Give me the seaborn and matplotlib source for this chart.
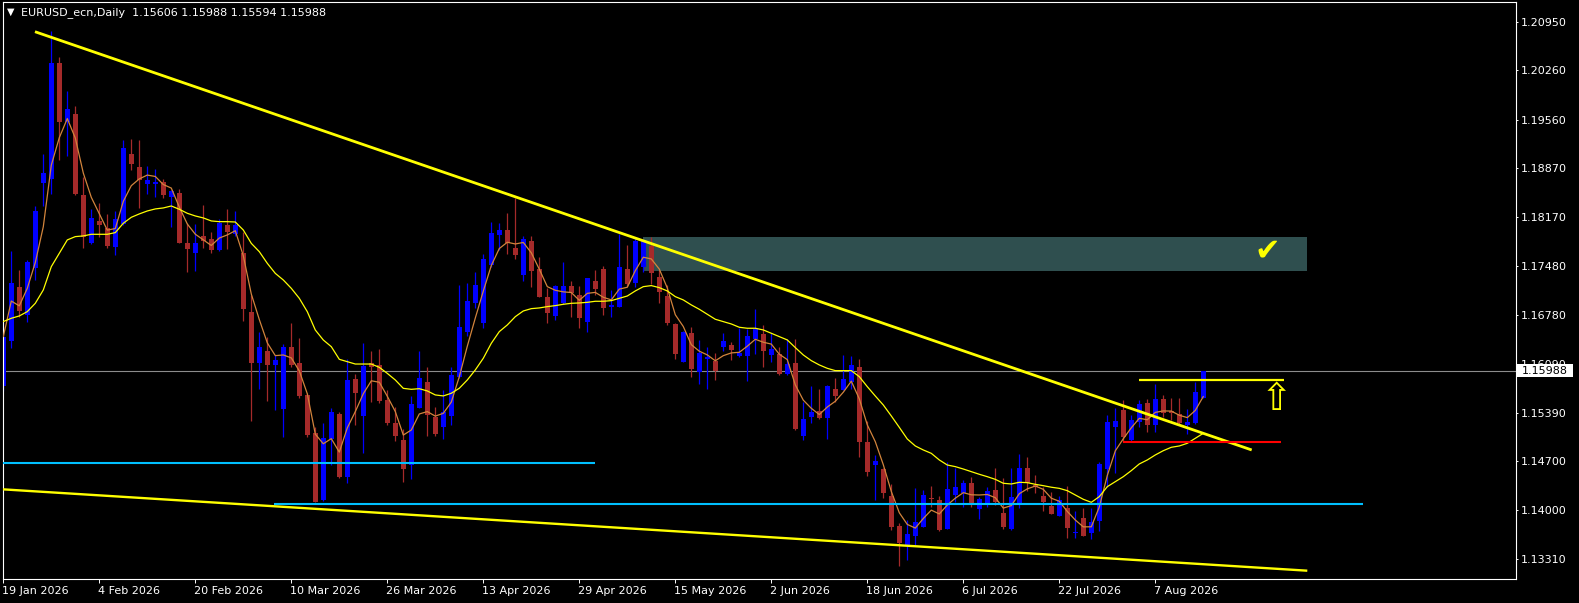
import numpy as np
import pandas as pd
import matplotlib
matplotlib.use('Agg')
import matplotlib.pyplot as plt
import matplotlib.transforms as mtransforms
from matplotlib.patches import Rectangle
import seaborn as sns

# daily candles, 19 Jan 2026 .. 14 Aug 2026 (trading days)
open_ = [
    1.15776, 1.16416, 1.17185, 1.16786, 1.17445, 1.18655, 1.18712, 1.20372, 1.19532, 1.19641,
    1.18489, 1.17811, 1.18119, 1.18019, 1.17754, 1.18076, 1.19072, 1.18892, 1.18641, 1.18641,
    1.18669, 1.18465, 1.18522, 1.17811, 1.17659, 1.17906, 1.17868, 1.17705, 1.18061, 1.17933,
    1.17667, 1.16823, 1.16102, 1.16273, 1.16069, 1.15438, 1.16330, 1.16102, 1.15642, 1.15106,
    1.14148, 1.15016, 1.15372, 1.14480, 1.15865, 1.15348, 1.16093, 1.16069, 1.15571, 1.15239,
    1.15002, 1.14646, 1.15452, 1.15832, 1.15325, 1.15183, 1.15344, 1.15904, 1.16544, 1.16957,
    1.16672, 1.17493, 1.17919, 1.17991, 1.17739, 1.17350, 1.17834, 1.17436, 1.17042, 1.16772,
    1.16947, 1.17194, 1.17066, 1.16686, 1.17265, 1.17431, 1.16895, 1.16900, 1.17431, 1.17232,
    1.17469, 1.17768, 1.17317, 1.17052, 1.16653, 1.16117, 1.16520, 1.15975, 1.16150, 1.16127,
    1.16321, 1.16354, 1.16198, 1.16203, 1.16440, 1.16511, 1.16212, 1.16226, 1.15942, 1.16094,
    1.15060, 1.15335, 1.15415, 1.15320, 1.15728, 1.15714, 1.15832, 1.16036, 1.14978, 1.14646,
    1.14589, 1.14210, 1.13778, 1.13508, 1.13641, 1.13769, 1.14177, 1.14144, 1.13736, 1.14220,
    1.14243, 1.14386, 1.14020, 1.14101, 1.14291, 1.13968, 1.13736, 1.14101, 1.14608, 1.14362,
    1.14210, 1.14068, 1.13925, 1.14039, 1.13674, 1.13897, 1.13674, 1.13850, 1.14589, 1.15192,
    1.15429, 1.15002, 1.15263, 1.15533, 1.15216, 1.15581, 1.15420, 1.15367, 1.15216, 1.15239,
    1.15606]
high = [
    1.16530, 1.17692, 1.17422, 1.17564, 1.18337, 1.19072, 1.20822, 1.20457, 1.19969, 1.19755,
    1.18740, 1.18290, 1.18380, 1.18219, 1.18261, 1.19272, 1.19286, 1.19272, 1.18906, 1.18859,
    1.18717, 1.18560, 1.18574, 1.18086, 1.18076, 1.18347, 1.17963, 1.18142, 1.18289, 1.18260,
    1.17966, 1.17065, 1.16543, 1.16472, 1.16211, 1.16368, 1.16671, 1.16448, 1.15670, 1.15191,
    1.15239, 1.15452, 1.15400, 1.16150, 1.15936, 1.16387, 1.16268, 1.16297, 1.15713, 1.15467,
    1.15154, 1.15628, 1.16268, 1.16045, 1.15477, 1.15714, 1.16036, 1.17208, 1.17241, 1.17388,
    1.17649, 1.18109, 1.18085, 1.18237, 1.18441, 1.17905, 1.17905, 1.17611, 1.17161, 1.17208,
    1.17540, 1.17270, 1.17194, 1.17313, 1.17421, 1.17478, 1.17137, 1.17934, 1.17777, 1.17872,
    1.17858, 1.17886, 1.17422, 1.17208, 1.16660, 1.16550, 1.16606, 1.16426, 1.16331, 1.16236,
    1.16530, 1.16402, 1.16601, 1.16582, 1.16862, 1.16639, 1.16530, 1.16321, 1.16440, 1.16440,
    1.15548, 1.15776, 1.15724, 1.15780, 1.15880, 1.16212, 1.16202, 1.16155, 1.15272, 1.14789,
    1.14600, 1.14376, 1.13826, 1.13864, 1.14314, 1.14291, 1.14352, 1.14210, 1.14694, 1.14608,
    1.14433, 1.14480, 1.14196, 1.14338, 1.14599, 1.14457, 1.14599, 1.14803, 1.14755, 1.14504,
    1.14338, 1.14267, 1.14210, 1.14352, 1.13992, 1.14039, 1.14030, 1.14694, 1.15358, 1.15453,
    1.15571, 1.15358, 1.15571, 1.15581, 1.15799, 1.15642, 1.15604, 1.15604, 1.15438, 1.15832,
    1.15988]
low = [
    1.15700, 1.16307, 1.16758, 1.16687, 1.17279, 1.18337, 1.18498, 1.18987, 1.19049, 1.18489,
    1.17740, 1.17792, 1.17896, 1.17730, 1.17635, 1.18067, 1.18845, 1.18309, 1.18503, 1.18465,
    1.18451, 1.18038, 1.17801, 1.17398, 1.17412, 1.17730, 1.17659, 1.17695, 1.17720, 1.17905,
    1.16695, 1.15277, 1.15723, 1.15562, 1.15429, 1.15049, 1.16045, 1.15595, 1.15050, 1.14115,
    1.14139, 1.14646, 1.14466, 1.14395, 1.15215, 1.14822, 1.15547, 1.15533, 1.15215, 1.14992,
    1.14409, 1.14442, 1.15452, 1.15059, 1.15059, 1.15012, 1.15216, 1.15880, 1.16487, 1.16876,
    1.16601, 1.17470, 1.17706, 1.17649, 1.17578, 1.17270, 1.17175, 1.17032, 1.16672, 1.16710,
    1.16940, 1.16757, 1.16591, 1.16534, 1.17066, 1.16781, 1.16748, 1.16900, 1.17194, 1.17184,
    1.17398, 1.17222, 1.16947, 1.16639, 1.16150, 1.16110, 1.15904, 1.15799, 1.15728, 1.15856,
    1.16274, 1.16141, 1.16179, 1.15847, 1.16226, 1.16046, 1.16117, 1.15928, 1.15928, 1.15145,
    1.15003, 1.15249, 1.15302, 1.15012, 1.15548, 1.15710, 1.15723, 1.14755, 1.14490, 1.14148,
    1.14172, 1.13722, 1.13209, 1.13295, 1.13508, 1.13760, 1.14054, 1.13712, 1.13731, 1.14125,
    1.14054, 1.14054, 1.13878, 1.14054, 1.14077, 1.13736, 1.13722, 1.14030, 1.14281, 1.14253,
    1.13997, 1.13944, 1.13920, 1.13612, 1.13612, 1.13636, 1.13589, 1.13707, 1.14329, 1.14528,
    1.14978, 1.14990, 1.15182, 1.15121, 1.15121, 1.15334, 1.15287, 1.15225, 1.15088, 1.15230,
    1.15594]
close = [
    1.16473, 1.17232, 1.16843, 1.17536, 1.18261, 1.18797, 1.20362, 1.19532, 1.19713, 1.18503,
    1.17887, 1.18162, 1.18062, 1.17763, 1.18143, 1.19162, 1.18930, 1.18702, 1.18702, 1.18669,
    1.18489, 1.18546, 1.17811, 1.17721, 1.17811, 1.17834, 1.17706, 1.18094, 1.17966, 1.18061,
    1.16866, 1.16102, 1.16330, 1.16069, 1.16140, 1.16330, 1.16069, 1.15633, 1.15073, 1.14124,
    1.15035, 1.15405, 1.14480, 1.15856, 1.15675, 1.16055, 1.16045, 1.15562, 1.15239, 1.15064,
    1.14589, 1.15514, 1.15879, 1.15358, 1.15088, 1.15406, 1.15927, 1.16615, 1.16980, 1.17208,
    1.17578, 1.17953, 1.17991, 1.17810, 1.17635, 1.17858, 1.17407, 1.17042, 1.16805, 1.17194,
    1.17194, 1.17099, 1.16734, 1.17303, 1.17146, 1.16886, 1.16923, 1.17459, 1.17222, 1.17834,
    1.17839, 1.17384, 1.17113, 1.16672, 1.16226, 1.16544, 1.16013, 1.16236, 1.16179, 1.15989,
    1.16411, 1.16283, 1.16245, 1.16482, 1.16577, 1.16274, 1.16293, 1.15942, 1.16084, 1.15154,
    1.15297, 1.15406, 1.15311, 1.15771, 1.15633, 1.15871, 1.16069, 1.14978, 1.14552, 1.14703,
    1.14253, 1.13769, 1.13541, 1.13665, 1.13831, 1.14220, 1.14163, 1.13722, 1.14300, 1.14338,
    1.14386, 1.14091, 1.14158, 1.14276, 1.14115, 1.13759, 1.14186, 1.14608, 1.14395, 1.14333,
    1.14115, 1.13949, 1.14150, 1.13755, 1.13693, 1.13641, 1.13840, 1.14661, 1.15263, 1.15272,
    1.15050, 1.15287, 1.15510, 1.15216, 1.15581, 1.15391, 1.15391, 1.15239, 1.15263, 1.15680,
    1.15988]

# slow moving average (yellow)
ma_slow = [
    1.16687, 1.16734, 1.16767, 1.16829, 1.16947, 1.17137, 1.17469, 1.17659, 1.17849, 1.17896,
    1.17906, 1.17929, 1.17929, 1.17929, 1.17953, 1.18086, 1.18171, 1.18219, 1.18261, 1.18290,
    1.18304, 1.18332, 1.18285, 1.18228, 1.18190, 1.18162, 1.18119, 1.18109, 1.18109, 1.18104,
    1.17990, 1.17800, 1.17682, 1.17516, 1.17373, 1.17279, 1.17160, 1.17018, 1.16828, 1.16567,
    1.16425, 1.16330, 1.16150, 1.16117, 1.16083, 1.16083, 1.16083, 1.16036, 1.15950, 1.15856,
    1.15737, 1.15723, 1.15732, 1.15700, 1.15643, 1.15629, 1.15667, 1.15738, 1.15856, 1.15999,
    1.16165, 1.16378, 1.16544, 1.16639, 1.16757, 1.16838, 1.16871, 1.16881, 1.16900, 1.16914,
    1.16933, 1.16947, 1.16952, 1.16961, 1.16976, 1.16976, 1.16985, 1.17018, 1.17051, 1.17123,
    1.17184, 1.17199, 1.17170, 1.17123, 1.17042, 1.16995, 1.16924, 1.16862, 1.16791, 1.16720,
    1.16686, 1.16653, 1.16606, 1.16592, 1.16592, 1.16568, 1.16520, 1.16473, 1.16426, 1.16317,
    1.16212, 1.16131, 1.16070, 1.16022, 1.15989, 1.15989, 1.15989, 1.15903, 1.15761, 1.15628,
    1.15500, 1.15344, 1.15182, 1.15016, 1.14917, 1.14860, 1.14812, 1.14718, 1.14646, 1.14623,
    1.14589, 1.14552, 1.14514, 1.14480, 1.14442, 1.14386, 1.14376, 1.14400, 1.14395, 1.14371,
    1.14352, 1.14330, 1.14314, 1.14281, 1.14220, 1.14158, 1.14115, 1.14196, 1.14338, 1.14409,
    1.14480, 1.14566, 1.14661, 1.14718, 1.14789, 1.14850, 1.14898, 1.14917, 1.14955, 1.15026,
    1.15097]

date_labels = ['19 Jan 2026', '4 Feb 2026', '20 Feb 2026', '10 Mar 2026', '26 Mar 2026',
               '13 Apr 2026', '29 Apr 2026', '15 May 2026', '2 Jun 2026', '18 Jun 2026',
               '6 Jul 2026', '22 Jul 2026', '7 Aug 2026']
price_ticks = [1.20950, 1.20260, 1.19560, 1.18870, 1.18170, 1.17480,
               1.16780, 1.16090, 1.15390, 1.14700, 1.14000, 1.13310]

# drawn objects (bar index, price)
trend_upper = [(3.96, 1.20812), (156.05, 1.14860)]
trend_lower = [(-0.08, 1.14300), (163.0, 1.13142)]
cyan_upper = (1.14679, -0.08, 74.0)
cyan_lower = (1.14091, 33.8, 170.0)
zone = (80.0, 162.9, 1.17407, 1.17895)
resist_level = (1.15860, 142.0, 160.1)
support_level = (1.14978, 140.0, 159.7)
bid = 1.15988

sns.set_theme(style='dark', rc={'axes.facecolor': 'black', 'figure.facecolor': 'black'})
plt.rcParams['font.family'] = ['DejaVu Sans']

W, H = 1579, 603
fig = plt.figure(figsize=(W / 100, H / 100), dpi=100)
ax = fig.add_axes([2.7 / W, 24 / H, 1513 / W, 577 / H])
ax.set_facecolor('black')

n = len(close)
x = np.arange(n)
o = np.array(open_); c = np.array(close); h = np.array(high); l = np.array(low)
cols = np.where(c >= o, '#0000FF', '#A52A2A')

# zone and bid line behind the candles
ax.add_patch(Rectangle((zone[0], zone[2]), zone[1] - zone[0], zone[3] - zone[2],
                       fc='#2F4F4F', ec='none', zorder=0.5))
ax.axhline(bid, color='#8C8C8C', lw=0.8, zorder=1)

ax.vlines(x, l, h, colors=cols, lw=0.9, zorder=2)
ax.bar(x, np.maximum(np.abs(c - o), 0.00012), bottom=np.minimum(o, c), width=0.6,
       color=cols, linewidth=0, zorder=2.1)

# fast MA: linear weighted 5
wma = pd.Series(c).rolling(5, min_periods=1).apply(
    lambda s: np.dot(s, np.arange(1, len(s) + 1)) / np.arange(1, len(s) + 1).sum(), raw=True)
df = pd.DataFrame({'bar': x, 'fast': wma, 'slow': ma_slow})
sns.lineplot(data=df, x='bar', y='fast', color='#D2843C', lw=0.9, ax=ax, zorder=3)
sns.lineplot(data=df, x='bar', y='slow', color='#FFFF00', lw=0.9, ax=ax, zorder=3)

# trend lines and levels
ax.plot(*zip(*trend_upper), color='#FFFF00', lw=2.0, solid_capstyle='butt', zorder=4)
ax.plot(*zip(*trend_lower), color='#FFFF00', lw=1.7, solid_capstyle='butt', zorder=4)
for lvl, x0, x1 in (cyan_upper, cyan_lower):
    ax.plot([x0, x1], [lvl, lvl], color='#00BFFF', lw=1.5, solid_capstyle='butt', zorder=4)
ax.plot(resist_level[1:], [resist_level[0]] * 2, color='#FFFF00', lw=1.6,
        solid_capstyle='butt', zorder=4)
ax.plot(support_level[1:], [support_level[0]] * 2, color='#FF0000', lw=1.5,
        solid_capstyle='butt', zorder=4)
ax.text(157.96, 1.17690, '\u2714', color='#FFFF00', fontsize=22, ha='center', va='center', zorder=5)
ax.text(159.1, 1.15570, '\u21e7', color='#FFFF00', fontsize=27, ha='center', va='center', zorder=5)

ax.set_xlim(-0.075, 189.05)
ax.set_ylim(1.130239, 1.212346)
ax.set_xlabel('')
ax.set_ylabel('')

ax.yaxis.tick_right()
ax.set_yticks(price_ticks)
ax.set_yticklabels([f'{v:.5f}' for v in price_ticks])
ax.tick_params(axis='y', which='both', right=True, left=False, colors='white',
               labelcolor='white', length=1.7, width=0.7, pad=2.2, labelsize=8, direction='out')
ax.set_xticks(range(0, 12 * len(date_labels), 12))
ax.set_xticklabels(date_labels, ha='left')
ax.tick_params(axis='x', bottom=True, colors='white', labelcolor='white', length=2.7,
               width=0.7, pad=2, labelsize=8, direction='out')
shift = mtransforms.ScaledTranslation(-1.5 / 100, 0, fig.dpi_scale_trans)
for lab in ax.get_xticklabels():
    lab.set_transform(lab.get_transform() + shift)
for sp in ax.spines.values():
    sp.set_color('white')
    sp.set_linewidth(0.8)
ax.grid(False)

# bid price box on the price scale
trans = mtransforms.blended_transform_factory(ax.transAxes, ax.transData)
half = 6.5 * (1.212346 - 1.130239) / 577
ax.add_patch(Rectangle((1.0011, bid - half), 0.0366, 2 * half, transform=trans,
                       fc='white', ec='none', clip_on=False, zorder=10))
ax.text(1.00397, bid, f'{bid:.5f}', transform=trans, color='black', fontsize=8,
        ha='left', va='center', clip_on=False, zorder=11)

# header
fig.text(10.7 / W, 1 - 12.2 / H, '\u25bc', color='white', fontsize=7, ha='center', va='center')
fig.text(20.7 / W, 1 - 12.7 / H,
         f'EURUSD_ecn,Daily  {o[-1]:.5f} {h[-1]:.5f} {l[-1]:.5f} {c[-1]:.5f}',
         color='white', fontsize=8, ha='left', va='center')

fig.savefig('out.png', dpi=100, facecolor='black')
